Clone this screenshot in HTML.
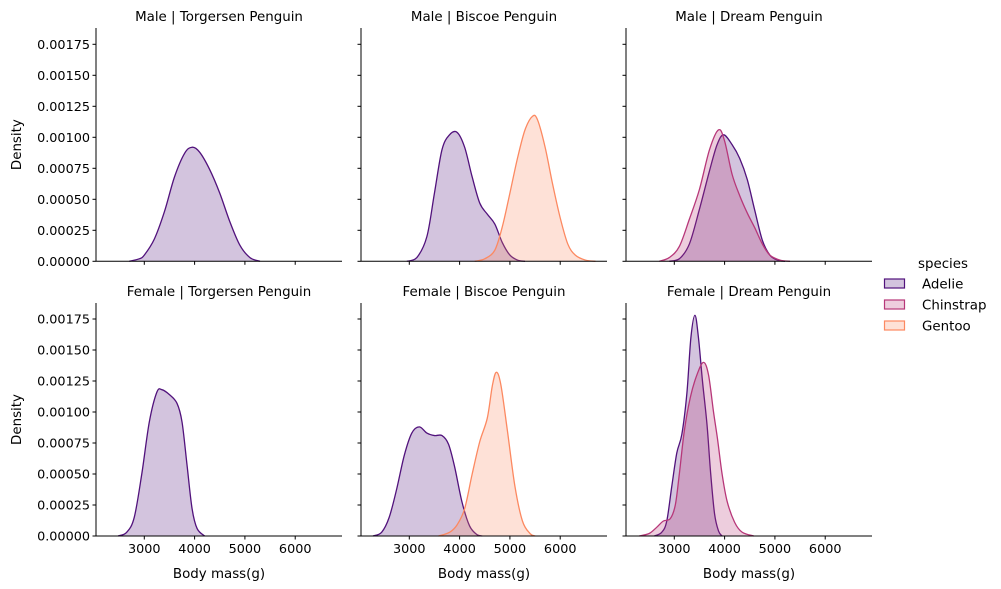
<!DOCTYPE html>
<html><head><meta charset="utf-8">
<style>
body{margin:0;background:#fff;}
svg{display:block;font-family:"DejaVu Sans","Liberation Sans",sans-serif;}
</style></head>
<body>
<svg id="chart" width="1001" height="589" viewBox="0 0 1001 589"></svg>
<script>
const yTicks = [0, 0.00025, 0.0005, 0.00075, 0.001, 0.00125, 0.0015, 0.00175];
const yTickLabels = ["0.00000","0.00025","0.00050","0.00075","0.00100","0.00125","0.00150","0.00175"];
const xTicks = [3000, 4000, 5000, 6000];
const panelTitles = ["Male | Torgersen Penguin","Male | Biscoe Penguin","Male | Dream Penguin","Female | Torgersen Penguin","Female | Biscoe Penguin","Female | Dream Penguin"];
const speciesNames = ["Adelie","Chinstrap","Gentoo"];

// Male Torgersen - Adelie
const mtAdelieX = [2700,2900,3000,3200,3400,3600,3800,3950,4100,4300,4500,4700,4900,5100,5300];
const mtAdelieY = [0,0.00002,0.00005,0.00018,0.00040,0.00068,0.00087,0.00092,0.00088,0.00074,0.00055,0.00032,0.00013,0.00003,0];
// Male Biscoe - Adelie
const mbAdelieX = [2950,3150,3350,3500,3650,3800,3950,4100,4250,4400,4550,4700,4850,5000,5150,5300];
const mbAdelieY = [0,0.00003,0.00020,0.00055,0.00090,0.00102,0.00104,0.00092,0.00068,0.00047,0.00038,0.00030,0.00015,0.00005,0.00001,0];
// Male Biscoe - Gentoo
const mbGentooX = [4300,4500,4700,4850,5000,5150,5300,5450,5550,5700,5850,6000,6150,6300,6500,6700];
const mbGentooY = [0,0.00002,0.00009,0.00028,0.00055,0.00083,0.00106,0.00117,0.00114,0.00092,0.00062,0.00035,0.00014,0.00005,0.00001,0];
// Male Dream - Adelie
const mdAdelieX = [2900,3100,3300,3500,3700,3850,3980,4150,4300,4450,4600,4750,4900,5050,5200];
const mdAdelieY = [0,0.00002,0.00014,0.00042,0.00073,0.00094,0.00102,0.00094,0.00083,0.00066,0.00041,0.00017,0.00005,0.00001,0];
// Male Dream - Chinstrap
const mdChinX = [2700,2900,3100,3300,3500,3700,3880,4000,4150,4300,4450,4600,4750,4900,5100,5300];
const mdChinY = [0,0.00003,0.00012,0.00034,0.00058,0.00090,0.00106,0.00097,0.00070,0.00053,0.00039,0.00027,0.00014,0.00005,0.00001,0];
// Female Torgersen - Adelie
const ftAdelieX = [2480,2650,2800,2950,3100,3250,3350,3500,3650,3750,3850,3950,4050,4200];
const ftAdelieY = [0,0.00003,0.00015,0.00050,0.00092,0.00116,0.00118,0.00114,0.00107,0.00092,0.00057,0.00022,0.00006,0];
// Female Biscoe - Adelie
const fbAdelieX = [2280,2450,2600,2750,2900,3050,3200,3350,3500,3650,3780,3900,4050,4200,4350,4450];
const fbAdelieY = [0,0.00003,0.00015,0.00038,0.00065,0.00083,0.00088,0.00083,0.00081,0.00081,0.00074,0.00056,0.00027,0.00008,0.00001,0];
// Female Biscoe - Gentoo
const fbGentooX = [3580,3800,3950,4100,4250,4400,4550,4650,4730,4820,4950,5100,5250,5400,5500];
const fbGentooY = [0,0.00003,0.00009,0.00022,0.00050,0.00076,0.00095,0.00121,0.00132,0.00122,0.00085,0.00040,0.00012,0.00002,0];
// Female Dream - Adelie
const fdAdelieX = [2600,2750,2850,2950,3050,3150,3250,3330,3410,3480,3560,3650,3720,3800,3880,3950];
const fdAdelieY = [0,0.00003,0.00012,0.00040,0.00067,0.00082,0.00115,0.00160,0.00178,0.00160,0.00125,0.00090,0.00052,0.00018,0.00004,0];
// Female Dream - Chinstrap
const fdChinX = [2300,2500,2650,2780,2920,3020,3100,3200,3320,3450,3580,3680,3780,3860,3950,4050,4200,4350,4580];
const fdChinY = [0,0.00002,0.00007,0.00012,0.00014,0.00025,0.00050,0.00085,0.00112,0.00130,0.00140,0.00130,0.00100,0.00078,0.00050,0.00028,0.00011,0.00003,0];

const colors = {Adelie:"#51127c", Chinstrap:"#b73779", Gentoo:"#fc8961"};
const panels = [
  {row:0,col:0,series:[["Adelie",mtAdelieX,mtAdelieY]]},
  {row:0,col:1,series:[["Adelie",mbAdelieX,mbAdelieY],["Gentoo",mbGentooX,mbGentooY]]},
  {row:0,col:2,series:[["Adelie",mdAdelieX,mdAdelieY],["Chinstrap",mdChinX,mdChinY]]},
  {row:1,col:0,series:[["Adelie",ftAdelieX,ftAdelieY]]},
  {row:1,col:1,series:[["Adelie",fbAdelieX,fbAdelieY],["Gentoo",fbGentooX,fbGentooY]]},
  {row:1,col:2,series:[["Adelie",fdAdelieX,fdAdelieY],["Chinstrap",fdChinX,fdChinY]]}
];

const NS="http://www.w3.org/2000/svg";
const svg=document.getElementById('chart');
function mk(tag,attrs,parent){const e=document.createElementNS(NS,tag);for(const k in attrs)e.setAttribute(k,attrs[k]);(parent||svg).appendChild(e);return e;}

const colLeft=[96,361,626], W=246, rowBase=[261.3,536], rowTop=[28,303];
const X0=2040, X1=6930;
function xScale(c,v){return colLeft[c]+(v-X0)/(X1-X0)*W;}
function yScale(r,v){return rowBase[r]-v/0.00025*31;}
let rowBaseCur=0;
function smoothPath(pts){
  let d="M"+pts[0][0].toFixed(2)+","+pts[0][1].toFixed(2);
  for(let i=0;i<pts.length-1;i++){
    const p0=pts[Math.max(0,i-1)],p1=pts[i],p2=pts[i+1],p3=pts[Math.min(pts.length-1,i+2)];
    const c1x=p1[0]+(p2[0]-p0[0])/6,c1y=p1[1]+(p2[1]-p0[1])/6;
    const c2x=p2[0]-(p3[0]-p1[0])/6,c2y=p2[1]-(p3[1]-p1[1])/6;
    d+=` C${c1x.toFixed(2)},${Math.min(c1y,rowBaseCur).toFixed(2)} ${c2x.toFixed(2)},${Math.min(c2y,rowBaseCur).toFixed(2)} ${p2[0].toFixed(2)},${p2[1].toFixed(2)}`;
  }
  return d;
}

panels.forEach((p,pi)=>{
  const g=mk('g',{});
  
  
  const r=p.row,c=p.col,L=colLeft[c],B=rowBase[r];
  rowBaseCur=B;
  p.series.forEach(s=>{
    const [name,xs,ys]=s;
    const pts=xs.map((v,i)=>[xScale(c,v),yScale(r,ys[i])]);
    const d=smoothPath(pts);
    const area=mk('path',{d:d+` L${pts[pts.length-1][0].toFixed(2)},${B} L${pts[0][0].toFixed(2)},${B} Z`,fill:colors[name],'fill-opacity':0.25,stroke:'none'},g);
    
    
    const line=mk('path',{d:d,fill:'none',stroke:colors[name],'stroke-width':1.3},g);
    
    
  });
  const sl=mk('line',{x1:L,y1:rowTop[r],x2:L,y2:B,stroke:'#000','stroke-width':1},g);
  
  
  const sb=mk('line',{x1:L,y1:B,x2:L+W,y2:B,stroke:'#000','stroke-width':1},g);
  
  
  yTicks.forEach((t,i)=>{
    const y=yScale(r,t);
    mk('line',{x1:L-3.5,y1:y,x2:L,y2:y,stroke:'#000','stroke-width':1},g);
    if(c===0){
      const tx=mk('text',{x:L-6,y:y+4.5,'font-size':12.8,'text-anchor':'end',fill:'#000'},g);
      tx.textContent=yTickLabels[i];
      
      
    }
  });
  xTicks.forEach(t=>{
    const x=xScale(c,t);
    mk('line',{x1:x,y1:B,x2:x,y2:B+3.5,stroke:'#000','stroke-width':1},g);
    if(r===1){
      const tx=mk('text',{x:x,y:B+17,'font-size':12.8,'text-anchor':'middle',fill:'#000'},g);
      tx.textContent=t;
      
      
    }
  });
  const title=mk('text',{x:L+W/2,y:rowTop[r]-7,'font-size':13.4,'text-anchor':'middle',fill:'#000'},g);
  title.textContent=panelTitles[pi];
  
  
  if(r===1){
    const xl=mk('text',{x:L+W/2,y:578,'font-size':13.4,'text-anchor':'middle',fill:'#000'},g);
    xl.textContent="Body mass(g)";
    
    
  }
  if(c===0){
    const cy=(rowTop[r]+B)/2;
    const yl=mk('text',{x:21,y:cy,'font-size':13.4,'text-anchor':'middle',fill:'#000',transform:`rotate(-90 21 ${cy})`},g);
    yl.textContent="Density";
    
    
  }
});

const lg=mk('g',{});


const lt=mk('text',{x:943,y:268,'font-size':13.4,'text-anchor':'middle',fill:'#000'},lg);
lt.textContent="species";


speciesNames.forEach((n,i)=>{
  const y=279+i*21;
  const e=mk('g',{},lg);
  
  
  mk('rect',{x:884.5,y:y,width:20,height:9,fill:colors[n],'fill-opacity':0.25,stroke:colors[n],'stroke-width':1.2},e);
  const t=mk('text',{x:922,y:y+9.5,'font-size':13.4,fill:'#000'},e);
  t.textContent=n;
});
</script>
</body></html>
